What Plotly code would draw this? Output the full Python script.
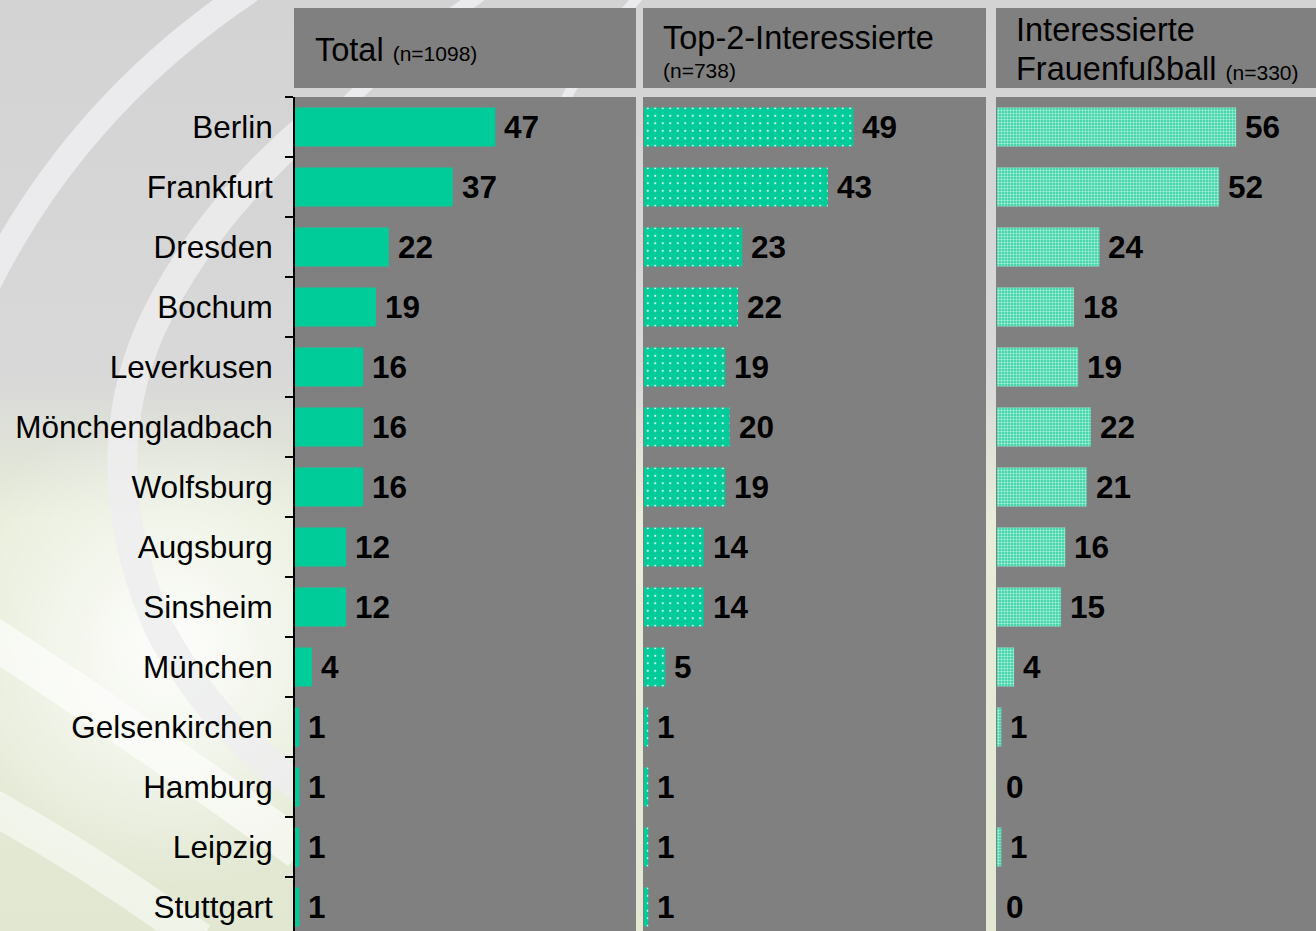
import base64
import plotly.graph_objects as go

# ---------------- data ----------------
cities = ["Berlin", "Frankfurt", "Dresden", "Bochum", "Leverkusen", "Mönchengladbach",
          "Wolfsburg", "Augsburg", "Sinsheim", "München", "Gelsenkirchen", "Hamburg",
          "Leipzig", "Stuttgart"]
total = [47, 37, 22, 19, 16, 16, 16, 12, 12, 4, 1, 1, 1, 1]
top2 = [49, 43, 23, 22, 19, 20, 19, 14, 14, 5, 1, 1, 1, 1]
frauen = [56, 52, 24, 18, 19, 22, 21, 16, 15, 4, 1, 0, 1, 0]

header_main = ["Total", "Top-2-Interessierte", "Interessierte"]
header_sub = ["(n=1098)", "(n=738)", "Frauenfußball"]
header_n3 = "(n=330)"

# ---------------- geometry ----------------
W, H = 1316, 931
FONT = "Liberation Sans, Arial, sans-serif"
TEAL = "#00CC99"
GRAY = "#808080"

def px(x):
    return x / W

def py(y):
    return 1 - y / H

panels = [(295, 636, 80.0), (644, 986, 80.0), (997, 1316, 74.7)]
plot_top = 97

fig = go.Figure()

series = [total, top2, frauen]
markers = [
    dict(color=TEAL, line=dict(width=0)),
    dict(color=TEAL, line=dict(width=0),
         pattern=dict(shape=".", fgcolor="#ffffff", bgcolor=TEAL, size=7.5, solidity=0.06,
                      fillmode="replace")),
    dict(color=TEAL, line=dict(width=0),
         pattern=dict(shape=".", fgcolor="#a4eed8", bgcolor="#2ccf9f", size=3, solidity=0.5,
                      fillmode="replace")),
]

for i, (vals, mk) in enumerate(zip(series, markers)):
    xa = "x" if i == 0 else f"x{i+1}"
    ya = "y" if i == 0 else f"y{i+1}"
    fig.add_trace(go.Bar(x=vals, y=cities, orientation="h", width=0.65, marker=mk,
                         xaxis=xa, yaxis=ya, showlegend=False, hoverinfo="x+y"))
    for c, v in zip(cities, vals):
        fig.add_annotation(x=v, y=c, xref=xa, yref=ya, text=f"<b>{v}</b>", showarrow=False,
                           xanchor="left", yanchor="middle", xshift=7,
                           font=dict(family=FONT, size=31.5, color="#000000"))

yr = [13.4, -0.5]
for i, (x0, x1, rmax) in enumerate(panels):
    xk = "xaxis" if i == 0 else f"xaxis{i+1}"
    yk = "yaxis" if i == 0 else f"yaxis{i+1}"
    fig.update_layout({
        xk: dict(domain=[px(x0), min(px(x1), 1)], range=[0, rmax], visible=False,
                 anchor="y" if i == 0 else f"y{i+1}", fixedrange=True),
        yk: dict(domain=[0, py(plot_top)], range=yr, type="category",
                 categoryorder="array", categoryarray=cities,
                 anchor="x" if i == 0 else f"x{i+1}",
                 showgrid=False, zeroline=False, fixedrange=True,
                 showticklabels=(i == 0), showline=(i == 0), linecolor="#000000",
                 linewidth=2, ticks="outside" if i == 0 else "", ticklen=8,
                 tickwidth=2, tickcolor="#000000", tickson="boundaries",
                 ticklabelstandoff=14,
                 tickfont=dict(family=FONT, size=31.5, color="#000000")),
    })
    # gray plot panel
    fig.add_shape(type="rect", xref="paper", yref="paper", x0=px(x0 - 1), x1=min(px(x1), 1),
                  y0=0, y1=py(plot_top), fillcolor=GRAY, line=dict(width=0), layer="below")
    # header box
    fig.add_shape(type="rect", xref="paper", yref="paper", x0=px(x0 - 1), x1=min(px(x1), 1),
                  y0=py(88), y1=py(8), fillcolor=GRAY, line=dict(width=0), layer="above")

fig.add_annotation(xref="paper", yref="paper", x=px(313), y=py(50), xanchor="left",
                   yanchor="middle", showarrow=False,
                   text=f"{header_main[0]} <span style='font-size:21px'>{header_sub[0]}</span>",
                   font=dict(family=FONT, size=32.5, color="#000000"))
fig.add_annotation(xref="paper", yref="paper", x=px(661), y=py(38), xanchor="left",
                   yanchor="middle", showarrow=False, text=header_main[1],
                   font=dict(family=FONT, size=32.5, color="#000000"))
fig.add_annotation(xref="paper", yref="paper", x=px(661), y=py(70), xanchor="left",
                   yanchor="middle", showarrow=False, text=header_sub[1],
                   font=dict(family=FONT, size=21, color="#000000"))
fig.add_annotation(xref="paper", yref="paper", x=px(1014), y=py(30), xanchor="left",
                   yanchor="middle", showarrow=False, text=header_main[2],
                   font=dict(family=FONT, size=32.5, color="#000000"))
fig.add_annotation(xref="paper", yref="paper", x=px(1014), y=py(69), xanchor="left",
                   yanchor="middle", showarrow=False,
                   text=f"{header_sub[2]} <span style='font-size:21px'>{header_n3}</span>",
                   font=dict(family=FONT, size=32.5, color="#000000"))

# decorative background (gradient + swirl)
svg = f"""<svg xmlns='http://www.w3.org/2000/svg' width='{W}' height='{H}' viewBox='0 0 {W} {H}'>
<defs>
<linearGradient id='g' x1='0' y1='0' x2='0' y2='1'>
<stop offset='0' stop-color='#d3d3d3'/>
<stop offset='0.40' stop-color='#d8d8d8'/>
<stop offset='0.56' stop-color='#e7edd9'/>
<stop offset='1' stop-color='#e1e7d1'/>
</linearGradient>
<radialGradient id='r' cx='170' cy='650' r='240' gradientUnits='userSpaceOnUse'>
<stop offset='0' stop-color='#ffffff' stop-opacity='0.95'/>
<stop offset='1' stop-color='#ffffff' stop-opacity='0'/>
</radialGradient>
</defs>
<rect width='{W}' height='{H}' fill='url(#g)'/>
<rect width='{W}' height='{H}' fill='url(#r)'/>
<path d='M 250 -10 Q 70 110 -20 300' stroke='#ebebed' stroke-width='26' fill='none'/>
<path d='M 310 125 Q 200 220 150 330 Q 90 470 160 630 Q 220 740 320 800' stroke='#ededee' stroke-opacity='0.85' stroke-width='30' fill='none'/>
<path d='M -20 630 Q 120 720 300 850' stroke='#ffffff' stroke-opacity='0.6' stroke-width='40' fill='none'/>
<path d='M -20 800 Q 90 860 200 940' stroke='#ffffff' stroke-opacity='0.5' stroke-width='35' fill='none'/>
<path d='M 480 -5 Q 400 50 340 110' stroke='#ebebed' stroke-width='14' fill='none'/>
<path d='M 640 -5 Q 590 50 560 110' stroke='#ebebed' stroke-width='10' fill='none'/>
</svg>"""
src = "data:image/svg+xml;base64," + base64.b64encode(svg.encode("utf-8")).decode("ascii")
fig.add_layout_image(source=src, xref="paper", yref="paper", x=0, y=1, sizex=1, sizey=1,
                     xanchor="left", yanchor="top", sizing="stretch", layer="below")

fig.update_layout(width=W, height=H, margin=dict(l=0, r=0, t=0, b=0),
                  paper_bgcolor="#d6d6d6", plot_bgcolor=GRAY, bargap=0.35,
                  font=dict(family=FONT, color="#000000"), showlegend=False)

fig.write_html("out.html", config={"displayModeBar": False},
               post_script="document.body.style.margin='0px';document.body.style.overflow='hidden';")
